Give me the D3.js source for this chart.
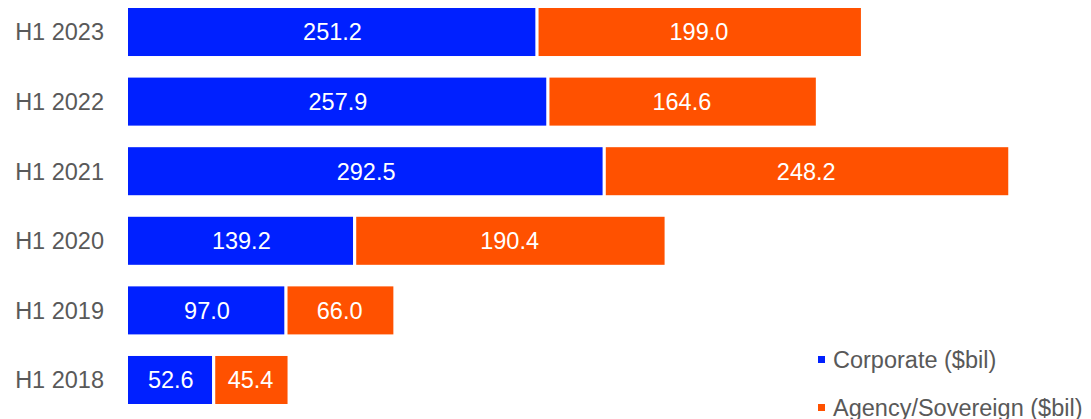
<!DOCTYPE html>
<html>
<head>
<meta charset="utf-8">
<script src="https://cdn.jsdelivr.net/npm/d3@7"></script>
<style>
  html, body { margin: 0; padding: 0; background: #fff; }
  svg { display: block; font-family: "Liberation Sans", Arial, sans-serif; }
</style>
</head>
<body>
<svg id="chart" width="1091" height="419"></svg>
<script>
// Bond issuance by half-year, in $ billions
const categories = ["H1 2023", "H1 2022", "H1 2021", "H1 2020", "H1 2019", "H1 2018"];
const corporate = [251.2, 257.9, 292.5, 139.2, 97.0, 52.6];
const agency = [199.0, 164.6, 248.2, 190.4, 66.0, 45.4];
const seriesNames = ["Corporate ($bil)", "Agency/Sovereign ($bil)"];
const colors = ["#0020ff", "#ff5100"];

const svg = d3.select("#chart");

const x = d3.scaleLinear().domain([0, 600]).range([128, 1104.8]);
const y = d3.scaleBand().domain(categories).range([8, 404]).paddingInner(0.31).paddingOuter(0);

const rows = categories.map((c, i) => ({ cat: c, values: [corporate[i], agency[i]] }));
const gap = 1.6; // white seam between stacked segments

rows.forEach(row => {
  let start = 0;
  row.values.forEach((v, si) => {
    const end = start + v;
    const x0 = x(start) + (si > 0 ? gap : 0);
    const x1 = x(end) - (si < row.values.length - 1 ? gap : 0);
    svg.append("rect")
      .attr("x", x0)
      .attr("y", y(row.cat))
      .attr("width", x1 - x0)
      .attr("height", y.bandwidth())
      .attr("fill", colors[si]);
    svg.append("text")
      .attr("x", (x(start) + x(end)) / 2)
      .attr("y", y(row.cat) + y.bandwidth() / 2)
      .attr("dy", "0.36em")
      .attr("text-anchor", "middle")
      .attr("fill", "#fff")
      .attr("font-size", 23.5)
      .text(v.toFixed(1));
    start = end;
  });
});

// Category axis labels
const yAxis = d3.axisLeft(y).tickSize(0).tickPadding(0);
const ga = svg.append("g").attr("transform", "translate(104,0)").call(yAxis);
ga.select(".domain").remove();
ga.selectAll("text")
  .attr("fill", "#595959")
  .attr("font-size", 23.5)
  .attr("font-family", "Liberation Sans, Arial, sans-serif")
  .attr("dy", "0.36em");

// Legend
const legend = svg.append("g");
seriesNames.forEach((name, i) => {
  const ly = 368 + i * 48;
  legend.append("rect")
    .attr("x", 818).attr("y", ly - 12)
    .attr("width", 7).attr("height", 7)
    .attr("fill", colors[i]);
  legend.append("text")
    .attr("x", 833).attr("y", ly)
    .attr("fill", "#595959")
    .attr("font-size", 23.5)
    .text(name);
});
</script>
</body>
</html>
